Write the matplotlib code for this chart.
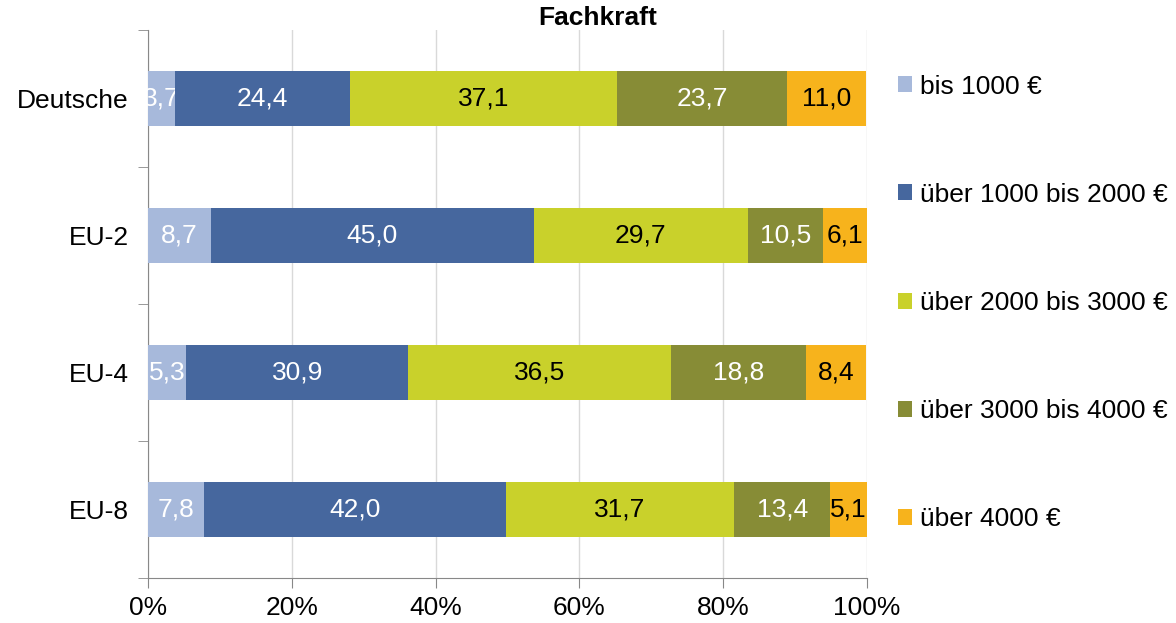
import matplotlib
matplotlib.use("Agg")
import matplotlib.pyplot as plt
import numpy as np

plt.rcParams['font.family'] = ['Liberation Sans', 'DejaVu Sans']

groups = ["Deutsche", "EU-2", "EU-4", "EU-8"]
series_names = ["bis 1000 €", "über 1000 bis 2000 €", "über 2000 bis 3000 €",
                "über 3000 bis 4000 €", "über 4000 €"]
values = [
    [3.7, 8.7, 5.3, 7.8],
    [24.4, 45.0, 30.9, 42.0],
    [37.1, 29.7, 36.5, 31.7],
    [23.7, 10.5, 18.8, 13.4],
    [11.0, 6.1, 8.4, 5.1],
]
colors = ["#A7B9DB", "#46679E", "#C9D12B", "#878C36", "#F7B31C"]
label_colors = ["white", "white", "black", "white", "black"]
xticks = [0, 20, 40, 60, 80, 100]
xtick_labels = ["0%", "20%", "40%", "60%", "80%", "100%"]

fig = plt.figure(figsize=(11.76, 6.23), dpi=100)
ax = fig.add_axes([148 / 1176, 1 - 578 / 623, (867 - 148) / 1176, (578 - 30) / 623])

y = np.arange(len(groups))
left = np.zeros(len(groups))
fs = 19
for vals, col, lc, name in zip(values, colors, label_colors, series_names):
    vals = np.array(vals)
    bars = ax.barh(y, vals, left=left, height=0.4, color=col, label=name,
                   edgecolor='none', zorder=3)
    labels = [f"{v:.1f}".replace(".", ",") for v in vals]
    ax.bar_label(bars, labels=labels, label_type='center', color=lc, fontsize=fs)
    left += vals

ax.set_xlim(0, 100)
ax.set_ylim(len(groups) - 0.5, -0.5)
ax.set_yticks(y)
ax.set_yticklabels(groups, fontsize=fs)
ax.set_yticks(np.arange(-0.5, len(groups), 1.0), minor=True)
ax.tick_params(axis='y', which='major', length=0, pad=14)
ax.tick_params(axis='y', which='minor', length=7, direction='out', color='#888888')
ax.set_xticks(xticks)
ax.set_xticklabels(xtick_labels, fontsize=fs)
ax.tick_params(axis='x', length=7, direction='out', color='#888888', pad=6)
ax.grid(axis='x', color='#D9D9D9', linewidth=1, zorder=0)
for s in ['top', 'right']:
    ax.spines[s].set_visible(False)
for s in ['left', 'bottom']:
    ax.spines[s].set_color('#888888')

ax.set_title("Fachkraft", fontsize=fs, fontweight='bold', pad=0)
ax.title.set_position(((598 - 148) / (867 - 148), 1.0))

ax.legend(loc='upper left', bbox_to_anchor=(887 / 1176, 1 - 64 / 623),
          bbox_transform=fig.transFigure, frameon=False, fontsize=fs,
          handlelength=0.55, handleheight=0.55, handletextpad=0.3,
          labelspacing=3.19, borderaxespad=0)

fig.savefig("out.png", dpi=100)
